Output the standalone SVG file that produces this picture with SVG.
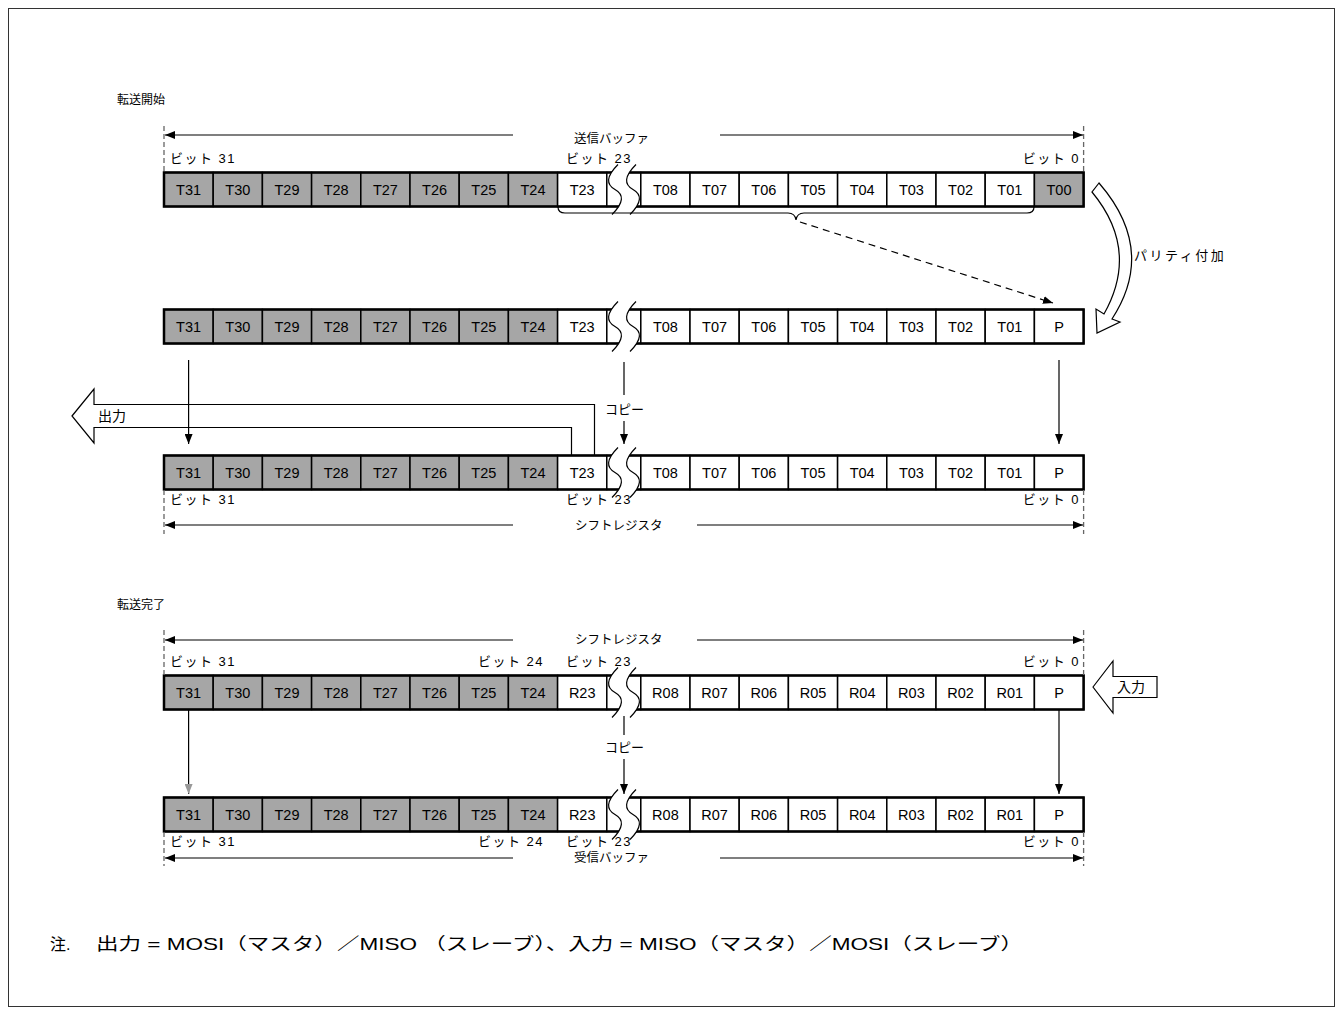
<svg xmlns="http://www.w3.org/2000/svg" width="1343" height="1015" viewBox="0 0 1343 1015">
<defs>
<marker id="ah" viewBox="0 0 10 8" refX="10" refY="4" markerWidth="10" markerHeight="8" markerUnits="userSpaceOnUse" orient="auto"><path d="M0,0 L10,4 L0,8 z" fill="#000"/></marker>
<marker id="ahg" viewBox="0 0 10 8" refX="10" refY="4" markerWidth="10" markerHeight="8" markerUnits="userSpaceOnUse" orient="auto"><path d="M0,0 L10,4 L0,8 z" fill="#999"/></marker>
</defs>
<style>
.t{font-family:"Liberation Sans",Arial,sans-serif;font-size:14.5px;text-anchor:middle;fill:#000}
.j{font-family:"Liberation Sans","Noto Sans CJK JP",sans-serif;font-size:13px;fill:#000}
.b{font-family:"Liberation Sans","Noto Sans CJK JP",sans-serif;font-size:13px;fill:#000;letter-spacing:1.5px}
.be{font-family:"Liberation Sans","Noto Sans CJK JP",sans-serif;font-size:13px;fill:#000;letter-spacing:1.5px;text-anchor:end}
.d{font-family:"Liberation Sans","Noto Sans CJK JP",sans-serif;font-size:12.5px;fill:#000}
.g{fill:#a6a6a6;stroke:#000;stroke-width:1.5}
.w{fill:#fff;stroke:#000;stroke-width:1.5}
.o{fill:none;stroke:#000;stroke-width:2.5}
.ln{stroke:#000;stroke-width:1.2;fill:none}
.dl{stroke:#000;stroke-width:1.2;fill:none;stroke-dasharray:7 5}
.dv{stroke:#666;stroke-width:1.3;stroke-dasharray:5 3}
.bf{fill:#fff;stroke:none}
.bc{fill:none;stroke:#000;stroke-width:1.2}
.ha{fill:#fff;stroke:#000;stroke-width:1.2}
</style>
<rect x="8.5" y="8.5" width="1326" height="998" fill="#fff" stroke="#333" stroke-width="1"/>

<text class="j" x="117" y="104" style="font-size:12px">転送開始</text>
<text class="j" x="117" y="609" style="font-size:12px">転送完了</text>

<!-- Row 1 -->
<g id="row1">
<rect class="g" x="164" y="172.5" width="49.2" height="34"/><rect class="g" x="213.2" y="172.5" width="49.2" height="34"/><rect class="g" x="262.4" y="172.5" width="49.2" height="34"/><rect class="g" x="311.6" y="172.5" width="49.2" height="34"/><rect class="g" x="360.8" y="172.5" width="49.2" height="34"/><rect class="g" x="410" y="172.5" width="49.2" height="34"/><rect class="g" x="459.2" y="172.5" width="49.2" height="34"/><rect class="g" x="508.4" y="172.5" width="49.2" height="34"/><rect class="w" x="557.6" y="172.5" width="49.2" height="34"/><rect class="w" x="606.8" y="172.5" width="34" height="34"/><rect class="w" x="640.8" y="172.5" width="49.2" height="34"/><rect class="w" x="690" y="172.5" width="49.2" height="34"/><rect class="w" x="739.2" y="172.5" width="49.2" height="34"/><rect class="w" x="788.4" y="172.5" width="49.2" height="34"/><rect class="w" x="837.6" y="172.5" width="49.2" height="34"/><rect class="w" x="886.8" y="172.5" width="49.2" height="34"/><rect class="w" x="936" y="172.5" width="49.2" height="34"/><rect class="w" x="985.2" y="172.5" width="49.2" height="34"/><rect class="g" x="1034.4" y="172.5" width="49.2" height="34"/>
<rect class="o" x="164" y="172.5" width="919.6" height="34"/>
<path class="bf" d="M618,164.5 C606,176.5 606,184.5 615,189.5 C624,194.5 624,202.5 612,214.5 L630,214.5 C642,202.5 642,194.5 633,189.5 C624,184.5 624,176.5 636,164.5 Z"/>
<path class="bc" d="M618,164.5 C606,176.5 606,184.5 615,189.5 C624,194.5 624,202.5 612,214.5 M636,164.5 C624,176.5 624,184.5 633,189.5 C642,194.5 642,202.5 630,214.5"/>
<text class="t" x="188.6" y="194.5">T31</text><text class="t" x="237.8" y="194.5">T30</text><text class="t" x="287" y="194.5">T29</text><text class="t" x="336.2" y="194.5">T28</text><text class="t" x="385.4" y="194.5">T27</text><text class="t" x="434.6" y="194.5">T26</text><text class="t" x="483.8" y="194.5">T25</text><text class="t" x="533" y="194.5">T24</text><text class="t" x="582.2" y="194.5">T23</text><text class="t" x="665.4" y="194.5">T08</text><text class="t" x="714.6" y="194.5">T07</text><text class="t" x="763.8" y="194.5">T06</text><text class="t" x="813" y="194.5">T05</text><text class="t" x="862.2" y="194.5">T04</text><text class="t" x="911.4" y="194.5">T03</text><text class="t" x="960.6" y="194.5">T02</text><text class="t" x="1009.8" y="194.5">T01</text><text class="t" x="1059" y="194.5">T00</text>
</g>

<!-- Row 2 -->
<g id="row2">
<rect class="g" x="164" y="309.5" width="49.2" height="34"/><rect class="g" x="213.2" y="309.5" width="49.2" height="34"/><rect class="g" x="262.4" y="309.5" width="49.2" height="34"/><rect class="g" x="311.6" y="309.5" width="49.2" height="34"/><rect class="g" x="360.8" y="309.5" width="49.2" height="34"/><rect class="g" x="410" y="309.5" width="49.2" height="34"/><rect class="g" x="459.2" y="309.5" width="49.2" height="34"/><rect class="g" x="508.4" y="309.5" width="49.2" height="34"/><rect class="w" x="557.6" y="309.5" width="49.2" height="34"/><rect class="w" x="606.8" y="309.5" width="34" height="34"/><rect class="w" x="640.8" y="309.5" width="49.2" height="34"/><rect class="w" x="690" y="309.5" width="49.2" height="34"/><rect class="w" x="739.2" y="309.5" width="49.2" height="34"/><rect class="w" x="788.4" y="309.5" width="49.2" height="34"/><rect class="w" x="837.6" y="309.5" width="49.2" height="34"/><rect class="w" x="886.8" y="309.5" width="49.2" height="34"/><rect class="w" x="936" y="309.5" width="49.2" height="34"/><rect class="w" x="985.2" y="309.5" width="49.2" height="34"/><rect class="w" x="1034.4" y="309.5" width="49.2" height="34"/>
<rect class="o" x="164" y="309.5" width="919.6" height="34"/>
<path class="bf" d="M618,301.5 C606,313.5 606,321.5 615,326.5 C624,331.5 624,339.5 612,351.5 L630,351.5 C642,339.5 642,331.5 633,326.5 C624,321.5 624,313.5 636,301.5 Z"/>
<path class="bc" d="M618,301.5 C606,313.5 606,321.5 615,326.5 C624,331.5 624,339.5 612,351.5 M636,301.5 C624,313.5 624,321.5 633,326.5 C642,331.5 642,339.5 630,351.5"/>
<text class="t" x="188.6" y="331.5">T31</text><text class="t" x="237.8" y="331.5">T30</text><text class="t" x="287" y="331.5">T29</text><text class="t" x="336.2" y="331.5">T28</text><text class="t" x="385.4" y="331.5">T27</text><text class="t" x="434.6" y="331.5">T26</text><text class="t" x="483.8" y="331.5">T25</text><text class="t" x="533" y="331.5">T24</text><text class="t" x="582.2" y="331.5">T23</text><text class="t" x="665.4" y="331.5">T08</text><text class="t" x="714.6" y="331.5">T07</text><text class="t" x="763.8" y="331.5">T06</text><text class="t" x="813" y="331.5">T05</text><text class="t" x="862.2" y="331.5">T04</text><text class="t" x="911.4" y="331.5">T03</text><text class="t" x="960.6" y="331.5">T02</text><text class="t" x="1009.8" y="331.5">T01</text><text class="t" x="1059" y="331.5">P</text>
</g>

<!-- Output arrow -->
<g id="out-arrow">
<path class="ha" d="M72,416 L94,389 L94,404.5 L594.5,404.5 L594.5,455.5 L571.5,455.5 L571.5,427.5 L94,427.5 L94,443 Z"/>
<text class="j" x="98" y="421" style="font-size:14px">出力</text>
</g>

<!-- Row 3 -->
<g id="row3">
<rect class="g" x="164" y="455.5" width="49.2" height="34"/><rect class="g" x="213.2" y="455.5" width="49.2" height="34"/><rect class="g" x="262.4" y="455.5" width="49.2" height="34"/><rect class="g" x="311.6" y="455.5" width="49.2" height="34"/><rect class="g" x="360.8" y="455.5" width="49.2" height="34"/><rect class="g" x="410" y="455.5" width="49.2" height="34"/><rect class="g" x="459.2" y="455.5" width="49.2" height="34"/><rect class="g" x="508.4" y="455.5" width="49.2" height="34"/><rect class="w" x="557.6" y="455.5" width="49.2" height="34"/><rect class="w" x="606.8" y="455.5" width="34" height="34"/><rect class="w" x="640.8" y="455.5" width="49.2" height="34"/><rect class="w" x="690" y="455.5" width="49.2" height="34"/><rect class="w" x="739.2" y="455.5" width="49.2" height="34"/><rect class="w" x="788.4" y="455.5" width="49.2" height="34"/><rect class="w" x="837.6" y="455.5" width="49.2" height="34"/><rect class="w" x="886.8" y="455.5" width="49.2" height="34"/><rect class="w" x="936" y="455.5" width="49.2" height="34"/><rect class="w" x="985.2" y="455.5" width="49.2" height="34"/><rect class="w" x="1034.4" y="455.5" width="49.2" height="34"/>
<rect class="o" x="164" y="455.5" width="919.6" height="34"/>
<path class="bf" d="M618,447.5 C606,459.5 606,467.5 615,472.5 C624,477.5 624,485.5 612,497.5 L630,497.5 C642,485.5 642,477.5 633,472.5 C624,467.5 624,459.5 636,447.5 Z"/>
<path class="bc" d="M618,447.5 C606,459.5 606,467.5 615,472.5 C624,477.5 624,485.5 612,497.5 M636,447.5 C624,459.5 624,467.5 633,472.5 C642,477.5 642,485.5 630,497.5"/>
<text class="t" x="188.6" y="477.5">T31</text><text class="t" x="237.8" y="477.5">T30</text><text class="t" x="287" y="477.5">T29</text><text class="t" x="336.2" y="477.5">T28</text><text class="t" x="385.4" y="477.5">T27</text><text class="t" x="434.6" y="477.5">T26</text><text class="t" x="483.8" y="477.5">T25</text><text class="t" x="533" y="477.5">T24</text><text class="t" x="582.2" y="477.5">T23</text><text class="t" x="665.4" y="477.5">T08</text><text class="t" x="714.6" y="477.5">T07</text><text class="t" x="763.8" y="477.5">T06</text><text class="t" x="813" y="477.5">T05</text><text class="t" x="862.2" y="477.5">T04</text><text class="t" x="911.4" y="477.5">T03</text><text class="t" x="960.6" y="477.5">T02</text><text class="t" x="1009.8" y="477.5">T01</text><text class="t" x="1059" y="477.5">P</text>
</g>

<!-- Row 4 -->
<g id="row4">
<rect class="g" x="164" y="675.5" width="49.2" height="34"/><rect class="g" x="213.2" y="675.5" width="49.2" height="34"/><rect class="g" x="262.4" y="675.5" width="49.2" height="34"/><rect class="g" x="311.6" y="675.5" width="49.2" height="34"/><rect class="g" x="360.8" y="675.5" width="49.2" height="34"/><rect class="g" x="410" y="675.5" width="49.2" height="34"/><rect class="g" x="459.2" y="675.5" width="49.2" height="34"/><rect class="g" x="508.4" y="675.5" width="49.2" height="34"/><rect class="w" x="557.6" y="675.5" width="49.2" height="34"/><rect class="w" x="606.8" y="675.5" width="34" height="34"/><rect class="w" x="640.8" y="675.5" width="49.2" height="34"/><rect class="w" x="690" y="675.5" width="49.2" height="34"/><rect class="w" x="739.2" y="675.5" width="49.2" height="34"/><rect class="w" x="788.4" y="675.5" width="49.2" height="34"/><rect class="w" x="837.6" y="675.5" width="49.2" height="34"/><rect class="w" x="886.8" y="675.5" width="49.2" height="34"/><rect class="w" x="936" y="675.5" width="49.2" height="34"/><rect class="w" x="985.2" y="675.5" width="49.2" height="34"/><rect class="w" x="1034.4" y="675.5" width="49.2" height="34"/>
<rect class="o" x="164" y="675.5" width="919.6" height="34"/>
<path class="bf" d="M618,667.5 C606,679.5 606,687.5 615,692.5 C624,697.5 624,705.5 612,717.5 L630,717.5 C642,705.5 642,697.5 633,692.5 C624,687.5 624,679.5 636,667.5 Z"/>
<path class="bc" d="M618,667.5 C606,679.5 606,687.5 615,692.5 C624,697.5 624,705.5 612,717.5 M636,667.5 C624,679.5 624,687.5 633,692.5 C642,697.5 642,705.5 630,717.5"/>
<text class="t" x="188.6" y="697.5">T31</text><text class="t" x="237.8" y="697.5">T30</text><text class="t" x="287" y="697.5">T29</text><text class="t" x="336.2" y="697.5">T28</text><text class="t" x="385.4" y="697.5">T27</text><text class="t" x="434.6" y="697.5">T26</text><text class="t" x="483.8" y="697.5">T25</text><text class="t" x="533" y="697.5">T24</text><text class="t" x="582.2" y="697.5">R23</text><text class="t" x="665.4" y="697.5">R08</text><text class="t" x="714.6" y="697.5">R07</text><text class="t" x="763.8" y="697.5">R06</text><text class="t" x="813" y="697.5">R05</text><text class="t" x="862.2" y="697.5">R04</text><text class="t" x="911.4" y="697.5">R03</text><text class="t" x="960.6" y="697.5">R02</text><text class="t" x="1009.8" y="697.5">R01</text><text class="t" x="1059" y="697.5">P</text>
</g>

<!-- Row 5 -->
<g id="row5">
<rect class="g" x="164" y="797.5" width="49.2" height="34"/><rect class="g" x="213.2" y="797.5" width="49.2" height="34"/><rect class="g" x="262.4" y="797.5" width="49.2" height="34"/><rect class="g" x="311.6" y="797.5" width="49.2" height="34"/><rect class="g" x="360.8" y="797.5" width="49.2" height="34"/><rect class="g" x="410" y="797.5" width="49.2" height="34"/><rect class="g" x="459.2" y="797.5" width="49.2" height="34"/><rect class="g" x="508.4" y="797.5" width="49.2" height="34"/><rect class="w" x="557.6" y="797.5" width="49.2" height="34"/><rect class="w" x="606.8" y="797.5" width="34" height="34"/><rect class="w" x="640.8" y="797.5" width="49.2" height="34"/><rect class="w" x="690" y="797.5" width="49.2" height="34"/><rect class="w" x="739.2" y="797.5" width="49.2" height="34"/><rect class="w" x="788.4" y="797.5" width="49.2" height="34"/><rect class="w" x="837.6" y="797.5" width="49.2" height="34"/><rect class="w" x="886.8" y="797.5" width="49.2" height="34"/><rect class="w" x="936" y="797.5" width="49.2" height="34"/><rect class="w" x="985.2" y="797.5" width="49.2" height="34"/><rect class="w" x="1034.4" y="797.5" width="49.2" height="34"/>
<rect class="o" x="164" y="797.5" width="919.6" height="34"/>
<path class="bf" d="M618,789.5 C606,801.5 606,809.5 615,814.5 C624,819.5 624,827.5 612,839.5 L630,839.5 C642,827.5 642,819.5 633,814.5 C624,809.5 624,801.5 636,789.5 Z"/>
<path class="bc" d="M618,789.5 C606,801.5 606,809.5 615,814.5 C624,819.5 624,827.5 612,839.5 M636,789.5 C624,801.5 624,809.5 633,814.5 C642,819.5 642,827.5 630,839.5"/>
<text class="t" x="188.6" y="819.5">T31</text><text class="t" x="237.8" y="819.5">T30</text><text class="t" x="287" y="819.5">T29</text><text class="t" x="336.2" y="819.5">T28</text><text class="t" x="385.4" y="819.5">T27</text><text class="t" x="434.6" y="819.5">T26</text><text class="t" x="483.8" y="819.5">T25</text><text class="t" x="533" y="819.5">T24</text><text class="t" x="582.2" y="819.5">R23</text><text class="t" x="665.4" y="819.5">R08</text><text class="t" x="714.6" y="819.5">R07</text><text class="t" x="763.8" y="819.5">R06</text><text class="t" x="813" y="819.5">R05</text><text class="t" x="862.2" y="819.5">R04</text><text class="t" x="911.4" y="819.5">R03</text><text class="t" x="960.6" y="819.5">R02</text><text class="t" x="1009.8" y="819.5">R01</text><text class="t" x="1059" y="819.5">P</text>
</g>

<!-- Parity arrow -->
<g id="parity-arrow">
<path class="ha" d="M1099,183 L1092,192 Q1140,250 1104,314 L1096,309 L1097,333 L1120,322 L1112,319 Q1157,250 1099,183 Z"/>
<text class="j" x="1134" y="260" style="letter-spacing:2.5px">パリティ付加</text>
</g>

<!-- Input arrow -->
<g id="in-arrow">
<path class="ha" d="M1093,687 L1113,661 L1113,676.5 L1157,676.5 L1157,697.5 L1113,697.5 L1113,713 Z"/>
<text class="j" x="1117" y="692" style="font-size:14px">入力</text>
</g>

<!-- Bit labels and dimension texts -->
<g id="labels">
<text class="b" x="170" y="163">ビット 31</text>
<text class="b" x="566" y="163">ビット 23</text>
<text class="be" x="1080" y="163">ビット 0</text>
<text class="d" x="574" y="143">送信バッファ</text>

<text class="b" x="170" y="504">ビット 31</text>
<text class="b" x="566" y="504">ビット 23</text>
<text class="be" x="1080" y="504">ビット 0</text>
<text class="d" x="575" y="530">シフトレジスタ</text>

<text class="d" x="575" y="644">シフトレジスタ</text>
<text class="b" x="170" y="666">ビット 31</text>
<text class="be" x="544" y="666">ビット 24</text>
<text class="b" x="566" y="666">ビット 23</text>
<text class="be" x="1080" y="666">ビット 0</text>

<text class="b" x="170" y="846">ビット 31</text>
<text class="be" x="544" y="846">ビット 24</text>
<text class="b" x="566" y="846">ビット 23</text>
<text class="be" x="1080" y="846">ビット 0</text>
<text class="d" x="574" y="862">受信バッファ</text>

<text class="j" x="605" y="414">コピー</text>
<text class="j" x="605" y="752">コピー</text>
</g>

<g id="connectors">
<line class="dv" x1="164" y1="126" x2="164" y2="172"/><line class="dv" x1="1083.6" y1="126" x2="1083.6" y2="172"/>
<line class="dv" x1="164" y1="490" x2="164" y2="534"/><line class="dv" x1="1083.6" y1="490" x2="1083.6" y2="534"/>
<line class="dv" x1="164" y1="630" x2="164" y2="675"/><line class="dv" x1="1083.6" y1="630" x2="1083.6" y2="675"/>
<line class="dv" x1="164" y1="832" x2="164" y2="866"/><line class="dv" x1="1083.6" y1="832" x2="1083.6" y2="866"/>

<line class="ln" x1="513" y1="135" x2="165" y2="135" marker-end="url(#ah)"/>
<line class="ln" x1="720" y1="135" x2="1083" y2="135" marker-end="url(#ah)"/>
<line class="ln" x1="513" y1="525" x2="165" y2="525" marker-end="url(#ah)"/>
<line class="ln" x1="697" y1="525" x2="1083" y2="525" marker-end="url(#ah)"/>
<line class="ln" x1="513" y1="640" x2="165" y2="640" marker-end="url(#ah)"/>
<line class="ln" x1="697" y1="640" x2="1083" y2="640" marker-end="url(#ah)"/>
<line class="ln" x1="513" y1="858" x2="165" y2="858" marker-end="url(#ah)"/>
<line class="ln" x1="720" y1="858" x2="1083" y2="858" marker-end="url(#ah)"/>

<path class="ln" d="M558,207 Q558,213 565,213 L788,213 Q795,213 796,220 Q797,213 804,213 L1027,213 Q1034,213 1034,207"/>
<line class="dl" x1="800" y1="222" x2="1053" y2="303" marker-end="url(#ah)"/>

<line class="ln" x1="188.6" y1="360" x2="188.6" y2="444" marker-end="url(#ah)"/>
<line class="ln" x1="1059" y1="360" x2="1059" y2="444" marker-end="url(#ah)"/>
<line class="ln" x1="624" y1="362" x2="624" y2="395"/>
<line class="ln" x1="624" y1="421" x2="624" y2="444" marker-end="url(#ah)"/>

<line class="ln" x1="188.6" y1="710" x2="188.6" y2="794" marker-end="url(#ahg)"/>
<line class="ln" x1="1059" y1="710" x2="1059" y2="794" marker-end="url(#ah)"/>
<line class="ln" x1="624" y1="716" x2="624" y2="735"/>
<line class="ln" x1="624" y1="759" x2="624" y2="794" marker-end="url(#ah)"/>
</g>

<g id="note">
<text class="j" x="50" y="950" style="font-size:16px">注.</text>
<text class="j" x="96" y="950" style="font-size:17px" textLength="927" lengthAdjust="spacingAndGlyphs">出力 = MOSI（マスタ）／MISO （スレーブ）、入力 = MISO（マスタ）／MOSI（スレーブ）</text>
</g>
</svg>
